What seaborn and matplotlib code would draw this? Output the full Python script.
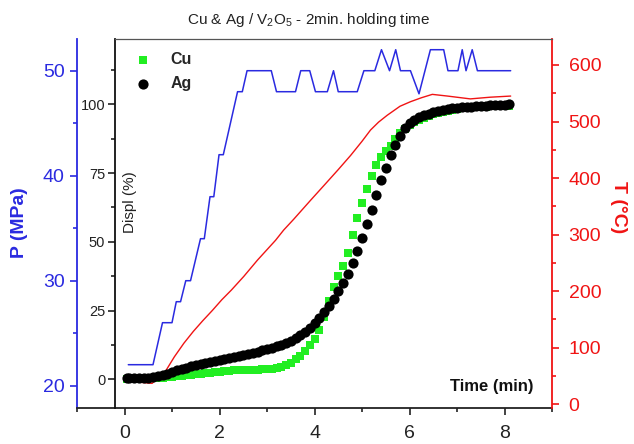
import matplotlib
matplotlib.use("Agg")
import matplotlib.pyplot as plt
import seaborn as sns
import pandas as pd
from matplotlib.ticker import MultipleLocator

# ---------------- data ----------------
sample_time = [0.05, 0.1, 0.2, 0.3, 0.4, 0.5, 0.6, 0.7, 0.8, 0.9,
               1.0, 1.1, 1.2, 1.3, 1.4, 1.5, 1.6, 1.7, 1.8, 1.9,
               2.0, 2.1, 2.2, 2.3, 2.4, 2.5, 2.6, 2.7, 2.8, 2.9,
               3.0, 3.1, 3.2, 3.3, 3.4, 3.5, 3.6, 3.7, 3.8, 3.9,
               4.0, 4.1, 4.2, 4.3, 4.4, 4.5, 4.6, 4.7, 4.8, 4.9,
               5.0, 5.1, 5.2, 5.3, 5.4, 5.5, 5.6, 5.7, 5.8, 5.9,
               6.0, 6.1, 6.2, 6.3, 6.4, 6.5, 6.6, 6.7, 6.8, 6.9,
               7.0, 7.1, 7.2, 7.3, 7.4, 7.5, 7.6, 7.7, 7.8, 7.9,
               8.0, 8.1]

cu_displ = [0.2, 0.2, 0.2, 0.2, 0.3, 0.3, 0.4, 0.5, 0.6, 0.7,
            0.9, 1.1, 1.3, 1.5, 1.6, 1.8, 2.0, 2.2, 2.4, 2.6,
            2.8, 3.0, 3.1, 3.2, 3.3, 3.4, 3.4, 3.5, 3.5, 3.6,
            3.7, 3.9, 4.1, 4.5, 5.1, 6.0, 7.2, 8.6, 10.3, 12.4,
            14.8, 18.0, 22.5, 28.5, 33.5, 37.5, 41.3, 46.0, 52.5, 58.5,
            64.0, 69.3, 73.8, 77.8, 81.0, 83.2, 85.0, 87.3, 89.4, 91.0,
            92.3, 93.4, 94.3, 95.1, 95.8, 96.4, 96.9, 97.3, 97.7, 98.0,
            98.3, 98.5, 98.7, 98.9, 99.0, 99.1, 99.2, 99.3, 99.4, 99.4,
            99.5, 99.5]

ag_displ = [0.3, 0.3, 0.3, 0.4, 0.5, 0.6, 0.8, 1.1, 1.5, 2.0,
            2.6, 3.2, 3.7, 4.2, 4.7, 5.1, 5.5, 5.9, 6.3, 6.7,
            7.0, 7.4, 7.7, 8.1, 8.5, 8.9, 9.3, 9.7, 10.1, 10.5,
            11.0, 11.5, 12.0, 12.6, 13.3, 14.0, 14.9, 16.0, 17.3, 18.8,
            20.5, 22.4, 24.4, 26.7, 29.3, 32.0, 35.0, 38.3, 42.3, 46.8,
            51.5, 56.3, 61.6, 67.2, 72.5, 77.0, 81.5, 85.3, 88.6, 91.3,
            93.2, 94.4, 95.3, 96.0, 96.6, 97.1, 97.5, 97.9, 98.2, 98.5,
            98.7, 98.9, 99.1, 99.2, 99.3, 99.4, 99.5, 99.6, 99.7, 99.8,
            99.9, 100.0]

p_time = [0.08, 0.6, 0.8, 1.0, 1.09, 1.18, 1.29, 1.39, 1.6, 1.68,
          1.8, 1.88, 1.99, 2.08, 2.38, 2.48, 2.58, 3.09, 3.2, 3.6,
          3.71, 3.9, 4.02, 4.27, 4.4, 4.5, 4.9, 5.04, 5.27, 5.41,
          5.58, 5.71, 5.81, 6.02, 6.2, 6.44, 6.72, 6.81, 7.02, 7.11,
          7.19, 7.32, 7.43, 8.13]
p_mpa = [22, 22, 26, 26, 28, 28, 30, 30, 34, 34,
         38, 38, 42, 42, 48, 48, 50, 50, 48, 48,
         50, 50, 48, 48, 50, 48, 48, 50, 50, 52,
         50, 52, 50, 50, 47.8, 52, 52, 50, 50, 52,
         50, 52, 50, 50]

temp_time = [0.2, 0.58, 0.86, 1.05, 1.25, 1.45, 1.65, 1.85, 2.05, 2.25,
             2.51, 2.8, 3.18, 3.35, 3.56, 3.92, 4.2, 4.5, 4.76, 5.0,
             5.18, 5.35, 5.53, 5.8, 6.02, 6.25, 6.48, 6.8, 7.28, 7.7,
             8.13]
temp_c = [40, 37, 58, 84, 108, 129, 148, 166, 185, 202,
          226, 255, 290, 308, 327, 361, 387, 415, 440, 465,
          485, 499, 511, 527, 535, 542, 548, 545, 540, 543,
          545]

x_ticks = [0, 2, 4, 6, 8]
title = "Cu & Ag / V$_2$O$_5$ - 2min. holding time"

# ---------------- style ----------------
sns.set_style("ticks")
plt.rcParams['font.family'] = ['Liberation Sans', 'DejaVu Sans']
plt.rcParams['mathtext.fontset'] = 'custom'
plt.rcParams['mathtext.rm'] = 'Liberation Sans'
plt.rcParams['mathtext.it'] = 'Liberation Sans'

BLUE = "#2a2ae0"
RED = "#f01414"
GREEN = "#22ee22"

W_PX, H_PX = 634, 444
fig = plt.figure(figsize=(W_PX / 100, H_PX / 100), dpi=100)


def fx(px):
    return px / W_PX


def fy(py):
    return 1 - py / H_PX


L, R, T, B = 77, 552, 39, 408
ax = fig.add_axes([fx(L), fy(B), fx(R) - fx(L), fy(T) - fy(B)])
axT = ax.twinx()
axD = ax.twinx()

df_p = pd.DataFrame({"time": p_time, "P": p_mpa})
df_t = pd.DataFrame({"time": temp_time, "T": temp_c})
df_s = pd.DataFrame({"time": sample_time, "Cu": cu_displ, "Ag": ag_displ})

sns.lineplot(data=df_p, x="time", y="P", ax=ax, color=BLUE, lw=1.1,
             sort=False, estimator=None)
sns.lineplot(data=df_t, x="time", y="T", ax=axT, color=RED, lw=1.0,
             sort=False, estimator=None)
sns.scatterplot(data=df_s, x="time", y="Cu", ax=axD, marker="s", color=GREEN,
                s=34, linewidth=0, label="Cu", zorder=3)
sns.scatterplot(data=df_s, x="time", y="Ag", ax=axD, marker="o", color="black",
                s=54, linewidth=0, label="Ag", zorder=4)

# limits
ax.set_xlim(-1, 9)
ax.set_ylim(17.876, 53.02)
axD.set_ylim(-10.44, 123.75)
axT.set_ylim(-6.54, 645.9)

for a in (ax, axT, axD):
    a.set_xlabel("")
    a.set_ylabel("")

# --- base axis: P (left, blue) + time (bottom)
ax.spines['top'].set_visible(False)
ax.spines['right'].set_visible(False)
ax.spines['left'].set_color(BLUE)
ax.spines['left'].set_linewidth(1.3)
ax.spines['bottom'].set_color("#222222")
ax.spines['bottom'].set_linewidth(1.3)
ax.set_xticks(x_ticks)
ax.xaxis.set_minor_locator(MultipleLocator(1))
ax.yaxis.set_major_locator(MultipleLocator(10))
ax.yaxis.set_minor_locator(MultipleLocator(5))
ax.tick_params(axis='x', which='major', direction='out', length=5, width=1.2,
               labelsize=14, pad=7, colors="#222222")
ax.tick_params(axis='x', which='minor', direction='out', length=3, width=1.2,
               color="#222222")
ax.tick_params(axis='y', which='major', direction='out', length=5, width=1.2,
               labelsize=14, pad=4, colors=BLUE)
ax.tick_params(axis='y', which='minor', direction='out', length=3, width=1.2,
               color=BLUE)

# --- temperature axis (right, red)
for s in ('left', 'top', 'bottom'):
    axT.spines[s].set_visible(False)
axT.spines['right'].set_color(RED)
axT.spines['right'].set_linewidth(1.3)
axT.yaxis.set_major_locator(MultipleLocator(100))
axT.yaxis.set_minor_locator(MultipleLocator(50))
axT.tick_params(axis='y', which='major', direction='out', length=5, width=1.2,
                labelsize=14, pad=7, colors=RED)
axT.tick_params(axis='y', which='minor', direction='out', length=3, width=1.2,
                color=RED)

# --- displacement axis (inner, black)
axD.yaxis.tick_left()
axD.spines['right'].set_visible(False)
axD.spines['bottom'].set_visible(False)
axD.spines['left'].set_visible(True)
axD.spines['left'].set_position(('data', -0.2))
axD.spines['left'].set_color("#111111")
axD.spines['left'].set_linewidth(1.3)
axD.spines['top'].set_visible(True)
axD.spines['top'].set_bounds(-0.2, 9)
axD.spines['top'].set_color("#555555")
axD.spines['top'].set_linewidth(0.9)
axD.yaxis.set_major_locator(MultipleLocator(25))
axD.yaxis.set_minor_locator(MultipleLocator(12.5))
axD.tick_params(axis='y', which='major', direction='out', length=5, width=1.2,
                labelsize=10.5, pad=2, colors="#222222")
axD.tick_params(axis='y', which='minor', direction='out', length=3, width=1.2,
                color="#222222")

# legend
leg = axD.legend(loc='upper left', bbox_to_anchor=(fx(127), fy(52)),
                 bbox_transform=fig.transFigure, frameon=False,
                 borderpad=0, borderaxespad=0, handlelength=2.0,
                 handletextpad=0.7, labelspacing=0.55,
                 prop={'weight': 'bold', 'size': 11.5})

# texts
fig.text(fx(309), fy(20), title, ha='center', va='center', fontsize=11,
         color="#222222")
fig.text(fx(20), fy(223), "P (MPa)", rotation=90, ha='center', va='center',
         fontsize=14, fontweight='bold', color=BLUE)
fig.text(fx(618), fy(207), "T (°C)", rotation=270, ha='center', va='center',
         fontsize=14, fontweight='bold', color=RED)
fig.text(fx(130), fy(202), "Displ (%)", rotation=90, ha='center', va='center',
         fontsize=11, color="#222222")
fig.text(fx(533), fy(386), "Time (min)", ha='right', va='center',
         fontsize=12, fontweight='bold', color="#111111")

fig.savefig("out.png", dpi=100)
